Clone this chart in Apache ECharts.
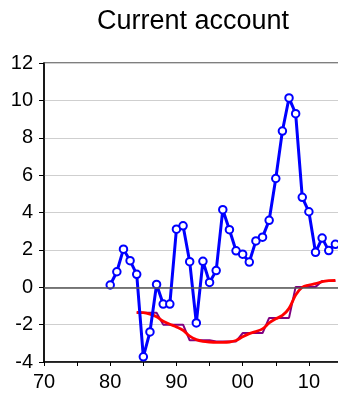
<!DOCTYPE html>
<html><head><meta charset="utf-8">
<script src="https://cdn.jsdelivr.net/npm/echarts@6/dist/echarts.min.js"></script>
<style>html,body{margin:0;padding:0;background:#fff;overflow:hidden}#c{width:346px;height:401px}</style>
</head><body><div id="c"></div>
<script>
const titleText = 'Current account';
const blueYears = [1980,1981,1982,1983,1984,1985,1986,1987,1988,1989,1990,1991,1992,1993,1994,1995,1996,1997,1998,1999,2000,2001,2002,2003,2004,2005,2006,2007,2008,2009,2010,2011,2012,2013,2014];
const blueValues = [0.12,0.83,2.04,1.42,0.69,-3.72,-2.39,0.15,-0.9,-0.9,3.11,3.29,1.37,-1.91,1.39,0.26,0.89,4.15,3.08,1.95,1.77,1.35,2.48,2.68,3.58,5.82,8.36,10.13,9.29,4.81,4.04,1.87,2.63,1.96,2.3];
const trendYears = [1984,1985,1986,1987,1988,1989,1990,1991,1992,1993,1994,1995,1996,1997,1998,1999,2000,2001,2002,2003,2004,2005,2006,2007,2008,2009,2010,2011,2012,2013,2014];
const redValues = [-1.35,-1.36,-1.44,-1.58,-1.82,-1.98,-2.12,-2.3,-2.62,-2.8,-2.89,-2.93,-2.95,-2.95,-2.93,-2.85,-2.65,-2.48,-2.37,-2.23,-1.91,-1.69,-1.51,-1.13,-0.42,0.0,0.12,0.19,0.3,0.35,0.36];
const stepValues = [-1.37,-1.37,-1.37,-1.37,-2.0,-2.0,-2.0,-2.0,-2.84,-2.84,-2.84,-2.84,-2.9,-2.9,-2.9,-2.9,-2.45,-2.45,-2.45,-2.45,-1.64,-1.64,-1.64,-1.64,0.02,0.02,0.02,0.02,0.33,0.33,0.33];
const yTicks = [-4,-2,0,2,4,6,8,10,12];
const xLabels = {1970:'70',1980:'80',1990:'90',2000:'00',2010:'10'};

const pair = (xs, ys) => xs.map((x, i) => [x, ys[i]]);
const font = 'Liberation Sans, Arial, sans-serif';
const chart = echarts.init(document.getElementById('c'), null, {renderer: 'canvas'});
chart.setOption({
  animation: false,
  backgroundColor: '#fff',
  title: {text: titleText, left: 92, top: 3,
    textStyle: {fontFamily: font, fontSize: 27, fontWeight: 'normal', color: '#000'}},
  grid: {left: 44, top: 63, width: 298, height: 299, show: true, borderColor: '#000', borderWidth: 1.2, containLabel: false},
  xAxis: {type: 'value', min: 1970, max: 2015, interval: 5,
    axisLine: {show: true, onZero: false, lineStyle: {color: '#000', width: 1.5}},
    axisTick: {show: true, inside: false, length: 4, lineStyle: {color: '#000'}},
    splitLine: {show: false},
    axisLabel: {margin: 10, fontFamily: font, fontSize: 20, color: '#000', showMaxLabel: false,
      formatter: v => xLabels[v] || ''}},
  yAxis: {type: 'value', min: yTicks[0], max: yTicks[yTicks.length-1], interval: 2,
    axisLine: {show: true, onZero: false, lineStyle: {color: '#000', width: 1.5}},
    axisTick: {show: true, inside: false, length: 5, lineStyle: {color: '#000'}},
    splitLine: {show: true, lineStyle: {color: '#cfcfcf', width: 1}},
    axisLabel: {margin: 11, fontFamily: font, fontSize: 20, color: '#000'}},
  series: [
    {type: 'line', data: pair(trendYears, stepValues), symbol: 'none', z: 2,
      lineStyle: {color: '#800080', width: 2},
      markLine: {silent: true, symbol: 'none', label: {show: false},
        lineStyle: {color: '#555', width: 1.5, type: 'solid'}, data: [{yAxis: 0}]}},
    {type: 'line', data: pair(trendYears, redValues), symbol: 'none', smooth: 0.3, z: 3,
      lineStyle: {color: '#ff0000', width: 2.8}},
    {type: 'line', data: pair(blueYears, blueValues), symbol: 'circle', symbolSize: 7.5, z: 4,
      lineStyle: {color: '#0000ff', width: 3},
      itemStyle: {color: '#fff', borderColor: '#0000ff', borderWidth: 2}}
  ]
});
</script></body></html>
